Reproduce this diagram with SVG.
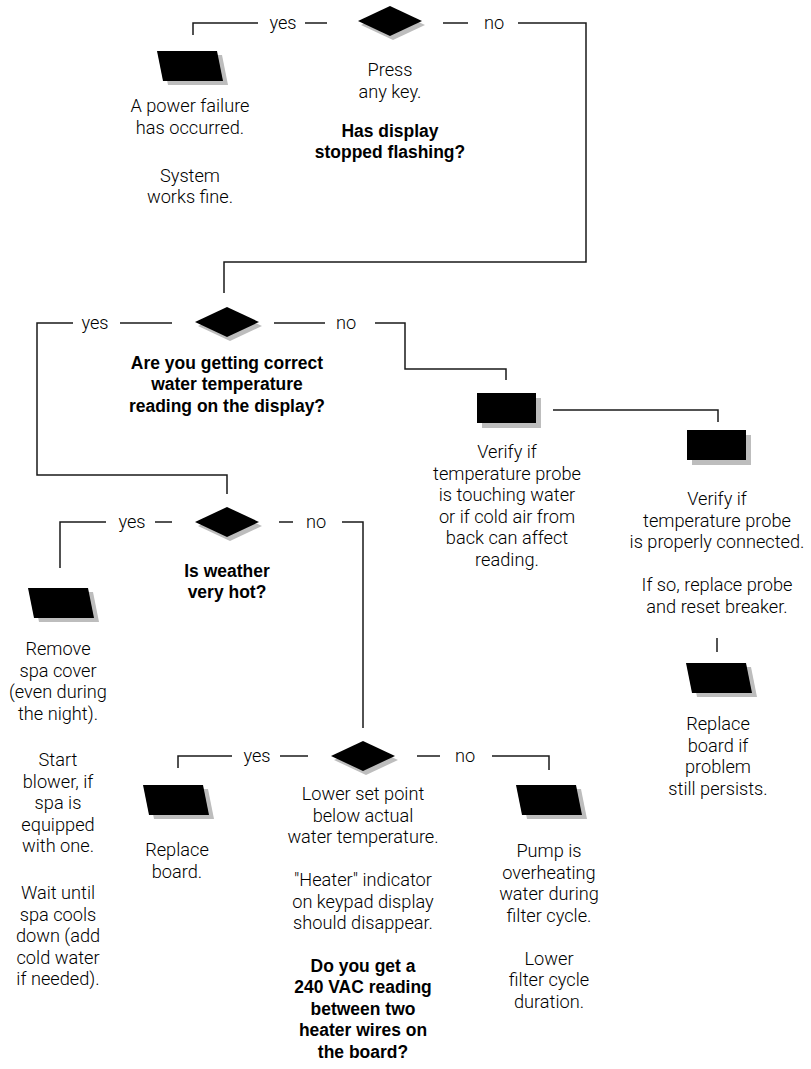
<svg xmlns="http://www.w3.org/2000/svg" width="811" height="1069" viewBox="0 0 811 1069">
<style>
.c{fill:none;stroke:#1a1a1a;stroke-width:1.5}
.n{font-family:Roboto,"Liberation Sans",sans-serif;font-weight:300;font-size:18.2px;fill:#000;text-anchor:middle}
.b{font-family:"Liberation Sans",Arial,sans-serif;font-weight:700;font-size:19px;fill:#000;text-anchor:middle}
.sh{fill:#bdbdbd}
.k{fill:#000}
</style>
<defs>
<polygon id="dia" points="-32,0 0,-15 32,0 0,15"/>
<polygon id="par" points="0,0 60,0 66,30 6,30"/>
<rect id="box" x="0" y="0" width="59" height="30"/>
</defs>

<g id="connectors">
<polyline class="c" points="193,35 193,23 258,23"/>
<line class="c" x1="305" y1="23" x2="327" y2="23"/>
<line class="c" x1="443" y1="23" x2="468" y2="23"/>
<polyline class="c" points="518,23 586,23 586,262 224,262 224,293"/>
<polyline class="c" points="73,323 37,323 37,475 227,475 227,494"/>
<line class="c" x1="120" y1="323" x2="172" y2="323"/>
<line class="c" x1="274" y1="323" x2="325" y2="323"/>
<polyline class="c" points="375,323 405,323 405,369 506,369 506,380"/>
<polyline class="c" points="553,410 718,410 718,422"/>
<line class="c" x1="717" y1="638" x2="717" y2="652"/>
<polyline class="c" points="60,568 60,522 106,522"/>
<line class="c" x1="155" y1="522" x2="172" y2="522"/>
<line class="c" x1="279" y1="522" x2="293" y2="522"/>
<polyline class="c" points="342,522 363,522 363,728"/>
<polyline class="c" points="178,768 178,756 232,756"/>
<line class="c" x1="280" y1="756" x2="308" y2="756"/>
<line class="c" x1="417" y1="756" x2="440" y2="756"/>
<polyline class="c" points="492,756 549,756 549,770"/>
</g>

<g id="labels">
<text class="n" x="283" y="28.5">yes</text>
<text class="n" x="494" y="28.5">no</text>
<text class="n" x="95" y="328.5">yes</text>
<text class="n" x="346" y="328.5">no</text>
<text class="n" x="132" y="527.5">yes</text>
<text class="n" x="316" y="527.5">no</text>
<text class="n" x="257" y="761.5">yes</text>
<text class="n" x="465" y="761.5">no</text>
</g>

<g id="q1">
<use href="#dia" class="sh" x="393" y="25"/>
<use href="#dia" class="k" x="390" y="21"/>
<text class="n" x="390" y="76">Press<tspan x="390" dy="21.5">any key.</tspan></text>
<text class="b" transform="scale(0.92,1)" x="423.91" y="137">Has display<tspan x="423.91" dy="21.5">stopped flashing?</tspan></text>
</g>

<g id="powerfail">
<use href="#par" class="sh" x="162" y="55"/>
<use href="#par" class="k" x="157" y="51"/>
<text class="n" x="190" y="112">A power failure<tspan x="190" dy="21.5">has occurred.</tspan><tspan x="190" dy="48">System</tspan><tspan x="190" dy="21.5">works fine.</tspan></text>
</g>

<g id="q2">
<use href="#dia" class="sh" x="230" y="326"/>
<use href="#dia" class="k" x="227" y="322"/>
<text class="b" transform="scale(0.92,1)" x="246.74" y="369">Are you getting correct<tspan x="246.74" dy="21.5">water temperature</tspan><tspan x="246.74" dy="21.5">reading on the display?</tspan></text>
</g>

<g id="probe-water">
<use href="#box" class="sh" x="482" y="398"/>
<use href="#box" class="k" x="477" y="393"/>
<text class="n" x="507" y="458">Verify if<tspan x="507" dy="21.5">temperature probe</tspan><tspan x="507" dy="21.5">is touching water</tspan><tspan x="507" dy="21.5">or if cold air from</tspan><tspan x="507" dy="21.5">back can affect</tspan><tspan x="507" dy="21.5">reading.</tspan></text>
</g>

<g id="probe-connect">
<use href="#box" class="sh" x="692" y="435"/>
<use href="#box" class="k" x="687" y="430"/>
<text class="n" x="717" y="505">Verify if<tspan x="717" dy="21.5">temperature probe</tspan><tspan x="717" dy="21.5">is properly connected.</tspan><tspan x="717" dy="43">If so, replace probe</tspan><tspan x="717" dy="21.5">and reset breaker.</tspan></text>
</g>

<g id="replace-board-persist">
<use href="#par" class="sh" x="691" y="667"/>
<use href="#par" class="k" x="686" y="663"/>
<text class="n" x="718" y="730">Replace<tspan x="718" dy="21.5">board if</tspan><tspan x="718" dy="21.5">problem</tspan><tspan x="718" dy="21.5">still persists.</tspan></text>
</g>

<g id="q3">
<use href="#dia" class="sh" x="230" y="526"/>
<use href="#dia" class="k" x="227" y="522"/>
<text class="b" transform="scale(0.92,1)" x="246.74" y="577">Is weather<tspan x="246.74" dy="21.5">very hot?</tspan></text>
</g>

<g id="spa-cover">
<use href="#par" class="sh" x="33" y="592"/>
<use href="#par" class="k" x="28" y="588"/>
<text class="n" x="58" y="655">Remove<tspan x="58" dy="21.5">spa cover</tspan><tspan x="58" dy="21.5">(even during</tspan><tspan x="58" dy="21.5">the night).</tspan><tspan x="58" dy="46.5">Start</tspan><tspan x="58" dy="21.5">blower, if</tspan><tspan x="58" dy="21.5">spa is</tspan><tspan x="58" dy="21.5">equipped</tspan><tspan x="58" dy="21.5">with one.</tspan><tspan x="58" dy="47">Wait until</tspan><tspan x="58" dy="21.5">spa cools</tspan><tspan x="58" dy="21.5">down (add</tspan><tspan x="58" dy="21.5">cold water</tspan><tspan x="58" dy="21.5">if needed).</tspan></text>
</g>

<g id="q4">
<use href="#dia" class="sh" x="366" y="760"/>
<use href="#dia" class="k" x="363" y="756"/>
<text class="n" x="363" y="800">Lower set point<tspan x="363" dy="21.5">below actual</tspan><tspan x="363" dy="21.5">water temperature.</tspan><tspan x="363" dy="43">"Heater" indicator</tspan><tspan x="363" dy="21.5">on keypad display</tspan><tspan x="363" dy="21.5">should disappear.</tspan></text>
<text class="b" transform="scale(0.92,1)" x="394.57" y="972">Do you get a<tspan x="394.57" dy="21.5">240 VAC reading</tspan><tspan x="394.57" dy="21.5">between two</tspan><tspan x="394.57" dy="21.5">heater wires on</tspan><tspan x="394.57" dy="21.5">the board?</tspan></text>
</g>

<g id="replace-board">
<use href="#par" class="sh" x="148" y="789"/>
<use href="#par" class="k" x="143" y="785"/>
<text class="n" x="177" y="856">Replace<tspan x="177" dy="21.5">board.</tspan></text>
</g>

<g id="pump">
<use href="#par" class="sh" x="521" y="789"/>
<use href="#par" class="k" x="516" y="785"/>
<text class="n" x="549" y="857">Pump is<tspan x="549" dy="21.5">overheating</tspan><tspan x="549" dy="21.5">water during</tspan><tspan x="549" dy="21.5">filter cycle.</tspan><tspan x="549" dy="43">Lower</tspan><tspan x="549" dy="21.5">filter cycle</tspan><tspan x="549" dy="21.5">duration.</tspan></text>
</g>
</svg>
